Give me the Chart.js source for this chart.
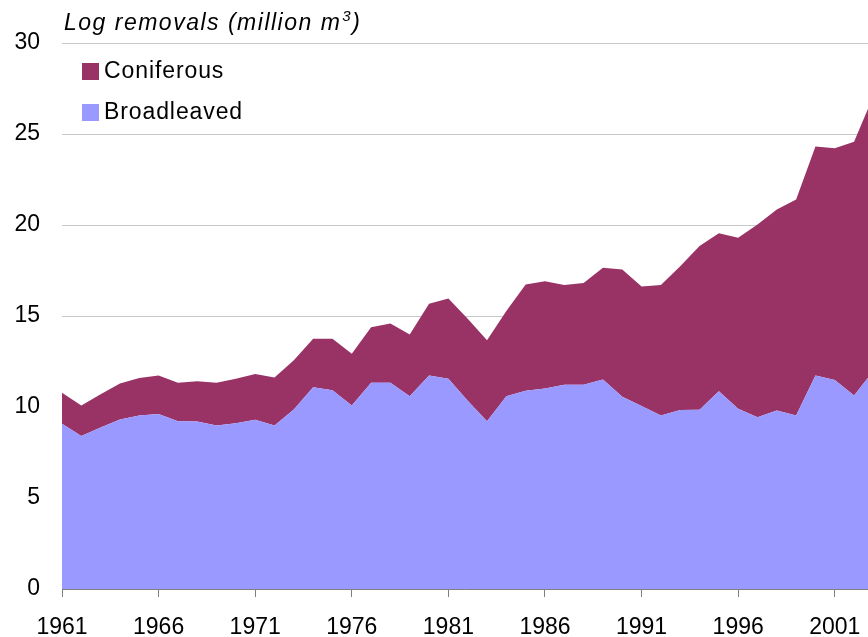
<!DOCTYPE html>
<html>
<head>
<meta charset="utf-8">
<title>Log removals</title>
<script src="https://cdn.jsdelivr.net/npm/chart.js@4.4.1/dist/chart.umd.min.js"></script>
<style>
  html, body { margin: 0; padding: 0; background: #fff; }
  #wrap { position: relative; width: 868px; height: 637px; }
</style>
</head>
<body>
<div id="wrap"><canvas id="chart"></canvas></div>
<script>
const years = [1961, 1962, 1963, 1964, 1965, 1966, 1967, 1968, 1969, 1970,
  1971, 1972, 1973, 1974, 1975, 1976, 1977, 1978, 1979, 1980,
  1981, 1982, 1983, 1984, 1985, 1986, 1987, 1988, 1989, 1990,
  1991, 1992, 1993, 1994, 1995, 1996, 1997, 1998, 1999, 2000,
  2001, 2002, 2003];

const broadleaved = [9.08, 8.40, 8.87, 9.31, 9.53, 9.62, 9.22, 9.20, 8.98, 9.11,
  9.30, 8.98, 9.86, 11.09, 10.92, 10.08, 11.33, 11.33, 10.59, 11.73,
  11.55, 10.35, 9.22, 10.59, 10.89, 11.02, 11.22, 11.22, 11.51, 10.56,
  10.05, 9.53, 9.83, 9.85, 10.87, 9.90, 9.44, 9.81, 9.53, 11.73,
  11.49, 10.63, 11.98];

const coniferous = [1.70, 1.68, 1.83, 1.98, 2.07, 2.11, 2.11, 2.21, 2.35, 2.44,
  2.52, 2.64, 2.71, 2.66, 2.83, 2.84, 3.05, 3.26, 3.39, 3.94,
  4.41, 4.50, 4.45, 4.68, 5.84, 5.89, 5.49, 5.60, 6.14, 6.99,
  6.57, 7.18, 7.91, 8.99, 8.68, 9.40, 10.59, 11.04, 11.87, 12.58,
  12.73, 13.94, 15.11];

const tickYears = [1961, 1966, 1971, 1976, 1981, 1986, 1991, 1996, 2001];
const yTicks = [0, 5, 10, 15, 20, 25, 30];

const FONT = '"Liberation Sans", Arial, sans-serif';

// legend + title drawn inside the plot, like the original sheet
const overlay = {
  id: 'overlay',
  afterDraw(chart) {
    const ctx = chart.ctx;
    ctx.save();
    ctx.fillStyle = '#000';
    ctx.textBaseline = 'alphabetic';
    ctx.textAlign = 'left';
    ctx.font = 'italic 23px ' + FONT;
    ctx.letterSpacing = '1.5px';
    ctx.fillText('Log removals (million m', 64, 30);
    let w = ctx.measureText('Log removals (million m').width;
    ctx.font = 'italic 15px ' + FONT;
    ctx.fillText('3', 64 + w + 1, 21);
    ctx.font = 'italic 23px ' + FONT;
    ctx.fillText(')', 64 + w + 11, 30);

    ctx.font = '23px ' + FONT;
    ctx.letterSpacing = '0.9px';
    const order = [1, 0];
    order.forEach((di, k) => {
      const ds = chart.data.datasets[di];
      const top = 63 + k * 41;
      ctx.fillStyle = ds.backgroundColor;
      ctx.fillRect(82, top, 17, 17);
      ctx.fillStyle = '#000';
      ctx.fillText(ds.label, 104, top + 15);
    });
    ctx.restore();
  }
};

new Chart(document.getElementById('chart'), {
  type: 'line',
  data: {
    datasets: [
      {
        label: 'Broadleaved',
        data: years.map((yr, i) => ({ x: yr, y: broadleaved[i] })),
        backgroundColor: '#9999FF',
        borderColor: '#9999FF',
        borderWidth: 0,
        pointRadius: 0,
        fill: 'origin',
        tension: 0
      },
      {
        label: 'Coniferous',
        data: years.map((yr, i) => ({ x: yr, y: coniferous[i] })),
        backgroundColor: '#993366',
        borderColor: '#993366',
        borderWidth: 0,
        pointRadius: 0,
        fill: '-1',
        tension: 0
      }
    ]
  },
  options: {
    responsive: true,
    maintainAspectRatio: false,
    animation: false,
    devicePixelRatio: 1,
    layout: { padding: { top: 43, left: 0, right: 0, bottom: 0 } },
    plugins: {
      legend: { display: false },
      tooltip: { enabled: false }
    },
    scales: {
      x: {
        type: 'linear',
        min: 1961,
        max: 2002.72,
        afterBuildTicks: s => { s.ticks = tickYears.map(v => ({ value: v })); },
        afterFit: s => { s.height = 48; s.paddingLeft = 0; s.paddingRight = 0; },
        grid: {
          drawOnChartArea: false,
          drawTicks: true,
          tickLength: 8,
          color: '#808080'
        },
        border: { display: true, color: '#808080', width: 1 },
        ticks: {
          padding: 17,
          maxRotation: 0,
          autoSkip: false,
          color: '#000',
          font: { family: FONT, size: 23 },
          callback: v => String(v)
        }
      },
      y: {
        stacked: true,
        min: 0,
        max: 30,
        afterBuildTicks: s => { s.ticks = yTicks.map(v => ({ value: v })); },
        afterFit: s => { s.width = 62; },
        grid: { color: '#c8c8c8', lineWidth: 1, drawTicks: false },
        border: { display: false },
        ticks: {
          padding: 22,
          color: '#000',
          font: { family: FONT, size: 23 }
        }
      }
    }
  },
  plugins: [overlay]
});
</script>
</body>
</html>
